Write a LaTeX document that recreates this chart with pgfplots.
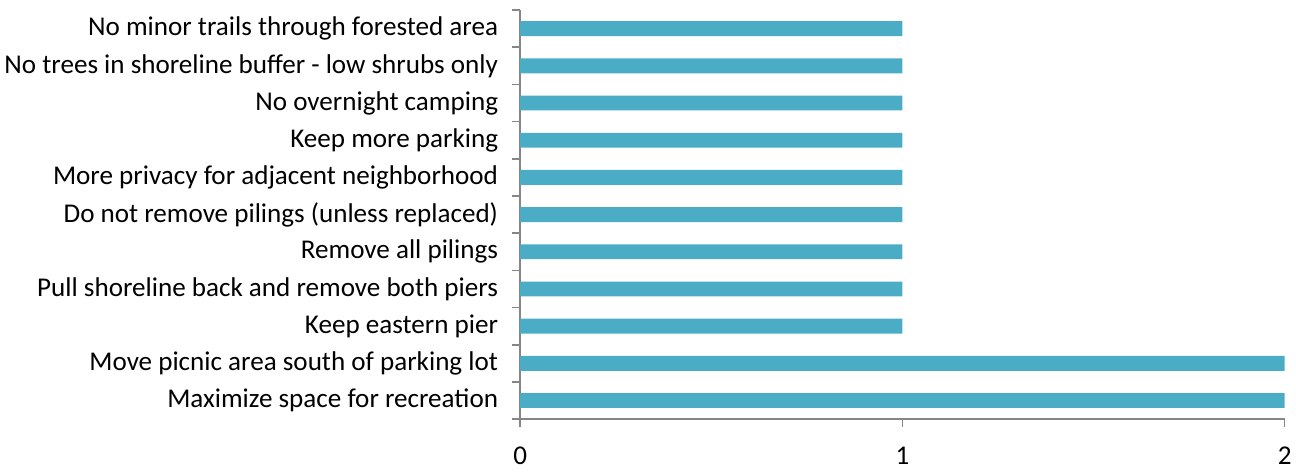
\documentclass[border=0pt]{standalone}
\usepackage{fontspec}
\setmainfont{Carlito}
\usepackage{pgfplots}
\pgfplotsset{compat=1.18}
\definecolor{barteal}{HTML}{4BACC6}
\definecolor{axisgray}{HTML}{868686}
\begin{document}
\begin{tikzpicture}
\begin{axis}[
  scale only axis,
  width=570pt, height=305pt,
  xbar, bar width=0.4,
  xmin=0, xmax=2, ymin=-0.5, ymax=10.5,
  axis lines=left, axis line style={draw=axisgray, line width=1.2pt, -},
  xtick={0,1,2},
  ytick={0,...,10},
  yticklabels={
    Maximize space for recreation,
    Move picnic area south of parking lot,
    Keep eastern pier,
    Pull shoreline back and remove both piers,
    Remove all pilings,
    Do not remove pilings (unless replaced),
    More privacy for adjacent neighborhood,
    Keep more parking,
    No overnight camping,
    No trees in shoreline buffer - low shrubs only,
    No minor trails through forested area},
  minor ytick={-0.5,0.5,...,10.5},
  tick align=outside,
  major tick length=6pt, minor tick length=6pt,
  major y tick style={draw=none},
  minor y tick style={draw=axisgray, line width=1.2pt},
  major x tick style={draw=axisgray, line width=1.2pt},
  tick label style={font=\fontsize{20.2}{24}\selectfont, text=black},
  yticklabel style={xshift=-7pt},
  xticklabel style={yshift=-11pt},
  /pgf/number format/assume math mode=true,
  clip=false,
]
\addplot[draw=none, fill=barteal] coordinates {
  (2,0) (2,1) (1,2) (1,3) (1,4) (1,5) (1,6) (1,7) (1,8) (1,9) (1,10)};
\path ([yshift=7.5pt]rel axis cs:0,1) ([yshift=-40.5pt]rel axis cs:0,0);
\end{axis}
\end{tikzpicture}
\end{document}
